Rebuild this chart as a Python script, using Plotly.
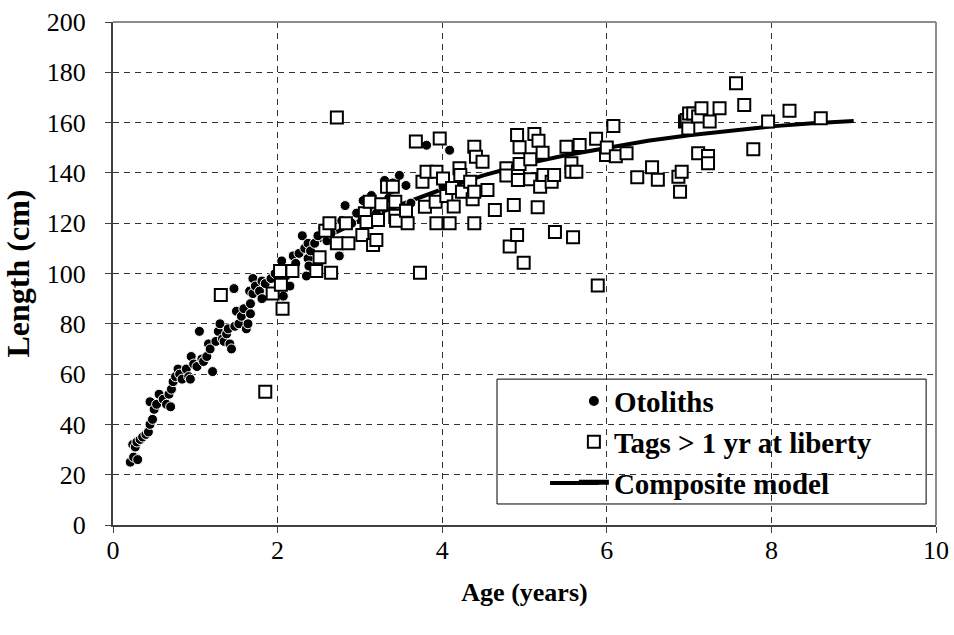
import plotly.graph_objects as go

# ---- Data ----
oto_age = [0.21, 0.25, 0.30, 0.24, 0.27, 0.29, 0.33, 0.36, 0.40, 0.43, 0.45, 0.48, 0.45, 0.50,
           0.53, 0.56, 0.61, 0.65, 0.70, 0.68, 0.71, 0.73, 0.76, 0.79, 0.81, 0.84, 0.89, 0.92,
           0.94, 0.95, 0.98, 1.02, 1.05, 1.08, 1.10, 1.14, 1.16, 1.18, 1.21, 1.25, 1.28, 1.30,
           1.33, 1.35, 1.38, 1.40, 1.42, 1.44, 1.47, 1.48, 1.50, 1.53, 1.56, 1.59, 1.62, 1.64,
           1.66, 1.67, 1.67, 1.70, 1.70, 1.73, 1.78, 1.81, 1.81, 1.85, 1.92, 1.97, 2.02, 2.05,
           2.07, 2.10, 2.15, 2.19, 2.22, 2.26, 2.30, 2.33, 2.35, 2.37, 2.37, 2.38, 2.40, 2.45,
           2.49, 2.55, 2.60, 2.65, 2.75, 2.78, 2.82, 2.90, 2.96, 3.04, 3.10, 3.14, 3.20, 3.30,
           3.35, 3.40, 3.48, 3.56, 3.62, 3.81, 4.01, 4.09]
oto_len = [25, 27, 26, 32, 31, 33, 34, 35, 36, 37, 40, 42, 49, 46,
           48, 52, 50, 48, 47, 52, 54, 57, 59, 62, 60, 58, 62, 59,
           58, 67, 64, 63, 77, 66, 65, 67, 72, 70, 61, 73, 77, 80,
           74, 73, 76, 78, 72, 70, 94, 79, 85, 80, 83, 86, 78, 80,
           93, 84, 88, 92, 98, 95, 93, 97, 90, 96, 98, 100, 102, 105,
           91, 99, 95, 107, 104, 108, 115, 110, 99, 112, 106, 103, 109, 112,
           115, 118, 113, 116, 107, 121, 127, 120, 124, 129, 126, 131, 124, 137,
           130, 136, 139, 135, 128, 151, 134.5, 149]

tag_age = [1.31, 1.85, 1.94, 2.03, 2.04, 2.06, 2.18, 2.47, 2.51, 2.65, 2.58, 2.63, 2.72, 2.72,
           2.83, 2.86, 3.03, 3.06, 3.08, 3.12, 3.16, 3.20, 3.22, 3.26, 3.33, 3.40, 3.43, 3.43,
           3.44, 3.56, 3.58, 3.68, 3.73, 3.76, 3.79, 3.81, 3.92, 3.93, 3.93, 3.97, 4.01, 4.05,
           4.09, 4.12, 4.14, 4.21, 4.22, 4.24, 4.34, 4.37, 4.39, 4.39, 4.39, 4.41, 4.49, 4.55,
           4.64, 4.78, 4.78, 4.82, 4.87, 4.91, 4.91, 4.92, 4.92, 4.94, 4.94, 4.99, 5.07, 5.07,
           5.12, 5.16, 5.17, 5.19, 5.22, 5.23, 5.33, 5.36, 5.37, 5.51, 5.57, 5.57, 5.59, 5.63,
           5.67, 5.87, 5.89, 5.99, 6.00, 6.08, 6.11, 6.24, 6.37, 6.55, 6.62, 6.87, 6.89, 6.91,
           6.95, 6.97, 6.99, 7.00, 7.05, 7.11, 7.11, 7.15, 7.23, 7.23, 7.25, 7.37, 7.57, 7.67,
           7.78, 7.96, 8.22, 8.60]
tag_len = [91.5, 53, 92, 101, 95.5, 86, 101, 101, 106.5, 100.3, 117, 120, 112, 162,
           120, 112, 115.3, 124, 120.5, 128.5, 111.3, 113.3, 121.3, 127.5, 134.5, 134.5, 128.5, 123,
           121, 125, 120, 152.5, 100.3, 136.5, 126.5, 140.5, 128.5, 140.5, 120, 153.7, 137.8, 130.8,
           120, 134, 126.6, 141.8, 139.2, 132.5, 136.5, 129.5, 150.4, 132.5, 120, 146.4, 144.4, 133.2,
           125.2, 141.8, 139, 110.7, 127.2, 155.1, 115.3, 140.5, 137.2, 143.5, 150.2, 104.3, 145.4, 137.5,
           155.5, 126.3, 152.8, 134.5, 148, 139.2, 136.5, 139.2, 116.5, 150.4, 143.8, 140.5, 114.4, 140.5,
           151.1, 153.6, 95.2, 147.1, 150.1, 158.6, 146.6, 147.8, 138.3, 142.2, 137.3, 138.5, 132.5, 140.5,
           160.4, 161, 157.7, 163.6, 163.6, 162.4, 147.8, 165.7, 146.7, 143.8, 160.4, 165.7, 175.6, 167,
           149.4, 160.4, 164.7, 161.7]

model_age = [2.5, 3.0, 3.5, 4.0, 4.5, 5.0, 5.5, 6.0, 6.5, 7.0, 7.5, 8.0, 8.5, 9.0]
model_len = [113, 121, 127.5, 133.5, 139, 143.5, 147, 150, 152.8, 155, 156.9, 158.5, 159.7, 160.6]

x_ticks = [0, 2, 4, 6, 8, 10]
y_ticks = [0, 20, 40, 60, 80, 100, 120, 140, 160, 180, 200]

FONT = "'Liberation Serif', 'Times New Roman', Times, serif"

fig = go.Figure()
fig.add_trace(go.Scatter(
    x=model_age, y=model_len, mode="lines", name="Composite model",
    line=dict(color="black", width=4), legendrank=3, legendgroup="c"))
fig.add_trace(go.Scatter(
    x=oto_age, y=oto_len, mode="markers", name="Otoliths",
    marker=dict(symbol="circle", size=10, color="black", line=dict(color="white", width=1)),
    legendrank=1, legendgroup="a"))
fig.add_trace(go.Scatter(
    x=tag_age, y=tag_len, mode="markers", name="Tags > 1 yr at liberty",
    marker=dict(symbol="square", size=12, color="white", line=dict(color="black", width=2)),
    legendrank=2, legendgroup="b"))

axis_common = dict(
    showgrid=True, gridcolor="#333333", gridwidth=1, griddash="6px,5px",
    showline=True, linecolor="#404040", linewidth=2,
    ticks="outside", ticklen=6, tickcolor="#404040", tickwidth=1,
    zeroline=False, automargin=False,
    tickfont=dict(family=FONT, size=26, color="black"),
)

fig.update_layout(
    width=954, height=635,
    margin=dict(l=113, r=18, t=22, b=110),
    paper_bgcolor="white", plot_bgcolor="white",
    font=dict(family=FONT, size=26, color="black"),
    xaxis=dict(range=[0, 10], tickvals=x_ticks, **axis_common, ticklabelstandoff=-5,
               title=dict(text="Age (years)", font=dict(family=FONT, size=26, weight="bold"), standoff=19)),
    yaxis=dict(range=[0, 200], tickvals=y_ticks, **axis_common, ticklabelstandoff=14,
               title=dict(text="Length (cm)", font=dict(family=FONT, size=32, weight="bold"), standoff=8)),
    legend=dict(x=0.56, y=0.297, xanchor="left", yanchor="top",
                bgcolor="rgba(0,0,0,0)", borderwidth=0,
                font=dict(family=FONT, size=29, weight="bold", color="black"),
                tracegroupgap=0, itemsizing="constant"),
    shapes=[
        dict(type="rect", xref="paper", yref="paper", x0=0.4666, x1=0.988, y0=0.0418, y1=0.290,
             line=dict(color="black", width=1), fillcolor="white", layer="between"),
        # longer legend line sample, as in the original legend
        dict(type="line", xref="paper", yref="paper", x0=0.531, x1=0.59, y0=0.0837, y1=0.0837,
             line=dict(color="black", width=4), layer="above"),
        dict(type="line", xref="paper", yref="paper", x0=0, x1=1, y0=1, y1=1,
             line=dict(color="#8c8c8c", width=2), layer="above"),
        dict(type="line", xref="paper", yref="paper", x0=1, x1=1, y0=0, y1=1,
             line=dict(color="#8c8c8c", width=2), layer="above"),
    ],
)

fig.write_html("out.html", config={"displayModeBar": False},
               post_script="document.body.style.margin='0';document.body.style.padding='0';")
